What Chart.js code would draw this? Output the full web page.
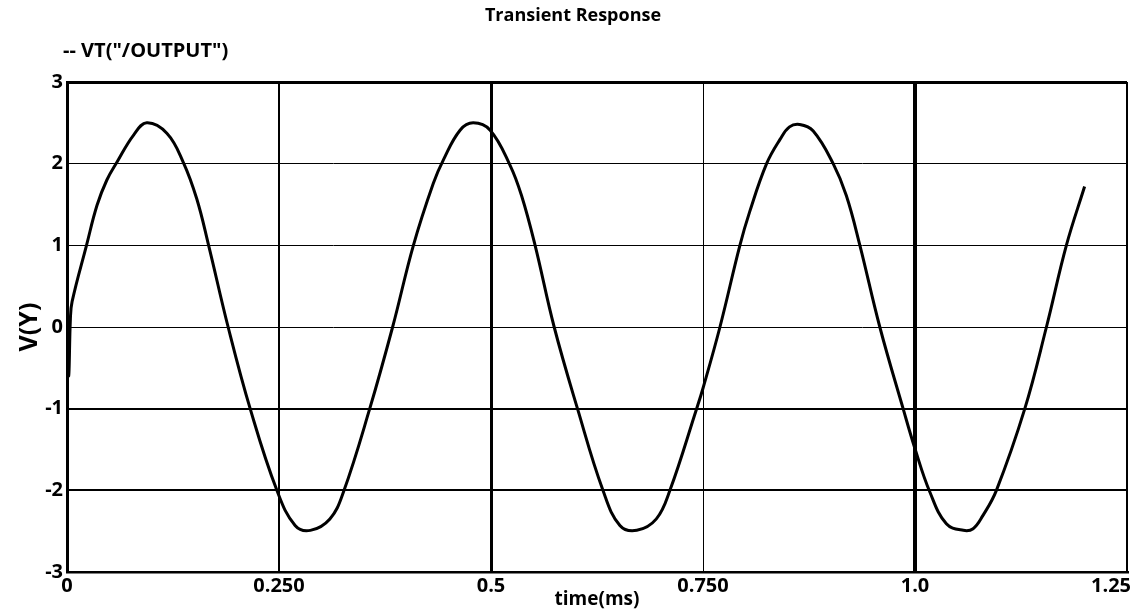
<!DOCTYPE html>
<html>
<head>
<meta charset="utf-8">
<title>Transient Response</title>
<script src="https://cdn.jsdelivr.net/npm/chart.js@4.4.0/dist/chart.umd.min.js"></script>
<style>
  html, body { margin: 0; padding: 0; background: #fff; }
  #chart-container { width: 1136px; height: 611px; }
</style>
</head>
<body>
<div id="chart-container"><canvas id="line-chartcanvas"></canvas></div>
<script>
// values
var timeMs = [0, 0.002, 0.004, 0.006, 0.023, 0.0354, 0.047, 0.059, 0.0785, 0.094, 0.118, 0.137, 0.153, 0.167, 0.190,
  0.216, 0.2475, 0.269, 0.287, 0.310, 0.326, 0.357, 0.384, 0.4085, 0.432, 0.444, 0.4635, 0.479, 0.499,
  0.5225, 0.536, 0.552, 0.5745, 0.602, 0.632, 0.652, 0.672, 0.695, 0.711, 0.7425, 0.750, 0.770, 0.7935,
  0.805, 0.825, 0.841, 0.852, 0.864, 0.880, 0.9035, 0.919, 0.935, 0.9585, 0.986, 1.0, 1.0175, 1.037,
  1.057, 1.0685, 1.080, 1.096, 1.1295, 1.155, 1.1785, 1.200];
var vOutput = [0, -0.6, 0.1, 0.31, 1.0, 1.49, 1.80, 2.02, 2.35, 2.50, 2.37, 2.02, 1.57, 1.0, 0,
  -1.0, -2.0, -2.43, -2.49, -2.35, -2.02, -1.0, 0, 1.0, 1.76, 2.05, 2.41, 2.50, 2.41,
  1.98, 1.61, 1.0, 0, -1.0, -2.0, -2.43, -2.49, -2.35, -2.0, -1.0, -0.75, 0, 1.0,
  1.41, 2.0, 2.30, 2.45, 2.48, 2.40, 2.0, 1.61, 1.0, 0, -1.0, -1.49, -2.02, -2.41,
  -2.49, -2.47, -2.31, -2.0, -1.0, 0, 1.0, 1.72];

var xTickValues = [0, 0.25, 0.5, 0.75, 1.0, 1.25];
var xTickLabels = ["0", "0.250", "0.5", "0.750", "1.0", "1.25"];
var yTickValues = [-3, -2, -1, 0, 1, 2, 3];

var seriesName = 'VT("/OUTPUT")';
var titleText = "Transient Response";

var FONT = "'Open Sans', 'DejaVu Sans', sans-serif";

// grid widths (it was rescaled so they differ)
function xGridWidth(v) {
  if (v === 0) return 3;
  if (v === 0.25) return 2;
  if (v === 0.5) return 3;
  if (v === 0.75) return 1;
  if (v === 1) return 4;
  return 2;
}
function yGridWidth(v) {
  if (v === 3) return 3;
  if (v < 0) return 2;
  return 1;
}

var points = [];
for (var i in timeMs) {
  points.push({ x: timeMs[i], y: vOutput[i] });
}

// title, legend text and x tick labels drawn on top
var textPlugin = {
  id: 'texts',
  afterDraw: function(chart) {
    var ctx = chart.ctx;
    var xs = chart.scales.x;
    ctx.save();
    ctx.fillStyle = '#000';
    ctx.textBaseline = 'middle';

    ctx.font = 'bold 18px ' + FONT;
    ctx.textAlign = 'center';
    ctx.fillText(titleText, 573, 16);

    ctx.font = 'bold 20px ' + FONT;
    ctx.textAlign = 'left';
    ctx.fillText('-- ' + seriesName, 63, 51);

    ctx.font = 'bold 20px ' + FONT;
    for (var k = 0; k < xTickValues.length; k++) {
      var px = xs.getPixelForValue(xTickValues[k]);
      if (k === xTickValues.length - 1) {
        ctx.textAlign = 'right';
        px = px + 4;
      } else {
        ctx.textAlign = 'center';
      }
      ctx.fillText(xTickLabels[k], px, 586);
    }
    ctx.restore();
  }
};

var ctx = document.getElementById('line-chartcanvas');

var LineGraph = new Chart(ctx, {
  type: 'line',
  data: {
    datasets: [{
      label: seriesName,
      data: points,
      borderColor: '#000',
      backgroundColor: '#000',
      borderWidth: 3,
      pointRadius: 0,
      fill: false,
      tension: 0.4
    }]
  },
  options: {
    responsive: true,
    maintainAspectRatio: false,
    animation: false,
    layout: { padding: { top: 82, right: 9, bottom: 0, left: 0 } },
    plugins: {
      legend: { display: false },
      title: { display: false },
      tooltip: { enabled: false }
    },
    scales: {
      x: {
        type: 'linear',
        min: 0,
        max: 1.25,
        afterBuildTicks: function(scale) {
          scale.ticks = xTickValues.map(function(v) { return { value: v }; });
        },
        afterFit: function(scale) { scale.height = 39; },
        ticks: { display: false },
        grid: {
          drawTicks: false,
          color: '#000',
          lineWidth: function(c) { return xGridWidth(c.tick.value); }
        },
        border: { display: true, color: '#000', width: 2.5 },
        title: {
          display: true,
          text: 'time(ms)',
          color: '#000',
          font: { family: FONT, size: 19, weight: 'bold' },
          padding: { top: 0, bottom: 0 }
        }
      },
      y: {
        min: -3,
        max: 3,
        afterBuildTicks: function(scale) {
          scale.ticks = yTickValues.map(function(v) { return { value: v }; });
        },
        afterFit: function(scale) { scale.width = 67; },
        ticks: {
          color: '#000',
          padding: 4,
          font: { family: FONT, size: 20, weight: 'bold' }
        },
        grid: {
          drawTicks: false,
          color: '#000',
          lineWidth: function(c) { return yGridWidth(c.tick.value); }
        },
        border: { display: true, color: '#000', width: 3 },
        title: {
          display: true,
          text: 'V(Y)',
          color: '#000',
          font: { family: FONT, size: 25, weight: 'bold' },
          padding: { top: 15, bottom: 0 }
        }
      }
    }
  },
  plugins: [textPlugin]
});
</script>
</body>
</html>
